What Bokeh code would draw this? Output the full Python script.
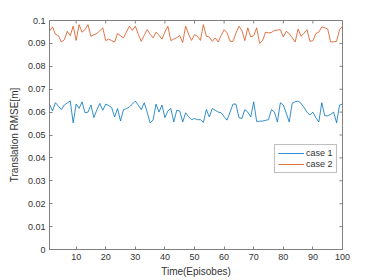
from bokeh.plotting import figure
from bokeh.models import Legend, LegendItem, FixedTicker, Range1d, ColumnDataSource
from bokeh.embed import file_html
from bokeh.resources import INLINE

episodes = list(range(1, 101))

case1 = [0.0635, 0.0605, 0.0641, 0.0626, 0.0611, 0.0631, 0.0640, 0.0649, 0.0553, 0.0635,
         0.0616, 0.0645, 0.0597, 0.0600, 0.0631, 0.0576, 0.0610, 0.0638, 0.0608, 0.0635,
         0.0628, 0.0620, 0.0579, 0.0616, 0.0561, 0.0611, 0.0615, 0.0623, 0.0635, 0.0648,
         0.0630, 0.0611, 0.0641, 0.0600, 0.0553, 0.0565, 0.0635, 0.0600, 0.0631, 0.0576,
         0.0605, 0.0616, 0.0557, 0.0608, 0.0605, 0.0557, 0.0597, 0.0580, 0.0567, 0.0572,
         0.0567, 0.0567, 0.0555, 0.0611, 0.0579, 0.0616, 0.0608, 0.0600, 0.0597, 0.0580,
         0.0565, 0.0600, 0.0635, 0.0635, 0.0576, 0.0572, 0.0611, 0.0600, 0.0579, 0.0645,
         0.0559, 0.0560, 0.0561, 0.0564, 0.0567, 0.0611, 0.0600, 0.0557, 0.0641, 0.0631,
         0.0595, 0.0557, 0.0638, 0.0645, 0.0648, 0.0638, 0.0620, 0.0600, 0.0587, 0.0600,
         0.0575, 0.0557, 0.0641, 0.0584, 0.0584, 0.0590, 0.0600, 0.0553, 0.0631, 0.0635]

case2 = [0.0953, 0.0972, 0.0940, 0.0934, 0.0906, 0.0916, 0.0953, 0.0934, 0.0975, 0.0913,
         0.0982, 0.0949, 0.0960, 0.0982, 0.0931, 0.0938, 0.0943, 0.0955, 0.0968, 0.0912,
         0.0919, 0.0912, 0.0906, 0.0943, 0.0933, 0.0924, 0.0950, 0.0975, 0.0957, 0.0975,
         0.0940, 0.0909, 0.0935, 0.0960, 0.0940, 0.0924, 0.0949, 0.0935, 0.0919, 0.0950,
         0.0975, 0.0912, 0.0919, 0.0925, 0.0934, 0.0904, 0.0975, 0.0940, 0.0913, 0.0938,
         0.0931, 0.0913, 0.0982, 0.0931, 0.0928, 0.0909, 0.0924, 0.0906, 0.0935, 0.0960,
         0.0946, 0.0909, 0.0909, 0.0945, 0.0975, 0.0957, 0.0912, 0.0968, 0.0928, 0.0934,
         0.0968, 0.0900, 0.0912, 0.0949, 0.0946, 0.0948, 0.0957, 0.0958, 0.0960, 0.0928,
         0.0953, 0.0943, 0.0925, 0.0906, 0.0963, 0.0931, 0.0945, 0.0960, 0.0909, 0.0912,
         0.0943, 0.0949, 0.0972, 0.0968, 0.0963, 0.0906, 0.0907, 0.0909, 0.0960, 0.0975]

x_ticks = [10, 20, 30, 40, 50, 60, 70, 80, 90, 100]
y_ticks = [0, 0.01, 0.02, 0.03, 0.04, 0.05, 0.06, 0.07, 0.08, 0.09, 0.1]
y_tick_labels = {0: "0", 0.01: "0.01", 0.02: "0.02", 0.03: "0.03", 0.04: "0.04", 0.05: "0.05",
                 0.06: "0.06", 0.07: "0.07", 0.08: "0.08", 0.09: "0.09", 0.1: "0.1"}
series_names = ["case 1", "case 2"]
colors = ["#0072BD", "#D95319"]

X_MIN, X_MAX = 1, 100
Y_MIN, Y_MAX = 0, 0.1
FW, FH = 293, 229
TICK_PX = 3

FONT = "Liberation Sans"
AXC = "#808080"
TXT = "#333333"

p = figure(frame_width=FW, frame_height=FH, output_backend="svg", toolbar_location=None,
           x_range=Range1d(X_MIN, X_MAX), y_range=Range1d(Y_MIN, Y_MAX),
           min_border_left=49, min_border_right=24, min_border_top=20, min_border_bottom=30,
           background_fill_color="white", border_fill_color="white")
p.grid.visible = False
p.outline_line_color = AXC
p.outline_line_width = 1

src = ColumnDataSource(dict(x=episodes, c1=case1, c2=case2))
r1 = p.line("x", "c1", source=src, line_color=colors[0], line_width=0.8)
r2 = p.line("x", "c2", source=src, line_color=colors[1], line_width=0.8)

# mirrored inward ticks on the top and right edges (MATLAB box style)
dy = (Y_MAX - Y_MIN) * TICK_PX / FH
dx = (X_MAX - X_MIN) * TICK_PX / FW
p.segment(x0=x_ticks, y0=[Y_MAX] * len(x_ticks), x1=x_ticks, y1=[Y_MAX - dy] * len(x_ticks),
          line_color=AXC, line_width=1)
p.segment(x0=[X_MAX] * len(y_ticks), y0=y_ticks, x1=[X_MAX - dx] * len(y_ticks), y1=y_ticks,
          line_color=AXC, line_width=1)

def style(ax):
    ax.axis_line_color = AXC
    ax.major_tick_line_color = AXC
    ax.major_tick_in = TICK_PX
    ax.major_tick_out = 0
    ax.minor_tick_in = 0
    ax.minor_tick_out = 0
    ax.major_label_text_font = FONT
    ax.major_label_text_font_size = "9px"
    ax.major_label_text_color = TXT
    ax.axis_label_text_font = FONT
    ax.axis_label_text_font_size = "10px"
    ax.axis_label_text_font_style = "normal"
    ax.axis_label_text_color = TXT

xa = p.xaxis[0]
xa.ticker = FixedTicker(ticks=x_ticks)
xa.axis_label = "Time(Episobes)"
style(xa)
xa.major_label_standoff = 4
xa.axis_label_standoff = 3

ya = p.yaxis[0]
ya.ticker = FixedTicker(ticks=y_ticks)
ya.major_label_overrides = y_tick_labels
ya.axis_label = "Translation RMSE[m]"
style(ya)
ya.major_label_standoff = 4
ya.axis_label_standoff = 5

legend = Legend(items=[LegendItem(label=series_names[0], renderers=[r1]),
                       LegendItem(label=series_names[1], renderers=[r2])],
                location=(225, 76), orientation="vertical")
legend.label_text_font = FONT
legend.label_text_font_size = "9px"
legend.label_text_color = TXT
legend.label_height = 10
legend.glyph_height = 10
legend.glyph_width = 26
legend.label_standoff = 2
legend.spacing = 1
legend.padding = 3
legend.margin = 0
legend.border_line_color = AXC
legend.border_line_width = 1
legend.background_fill_color = "white"
p.add_layout(legend, "center")

open("out.html", "w").write(file_html(p, INLINE))
